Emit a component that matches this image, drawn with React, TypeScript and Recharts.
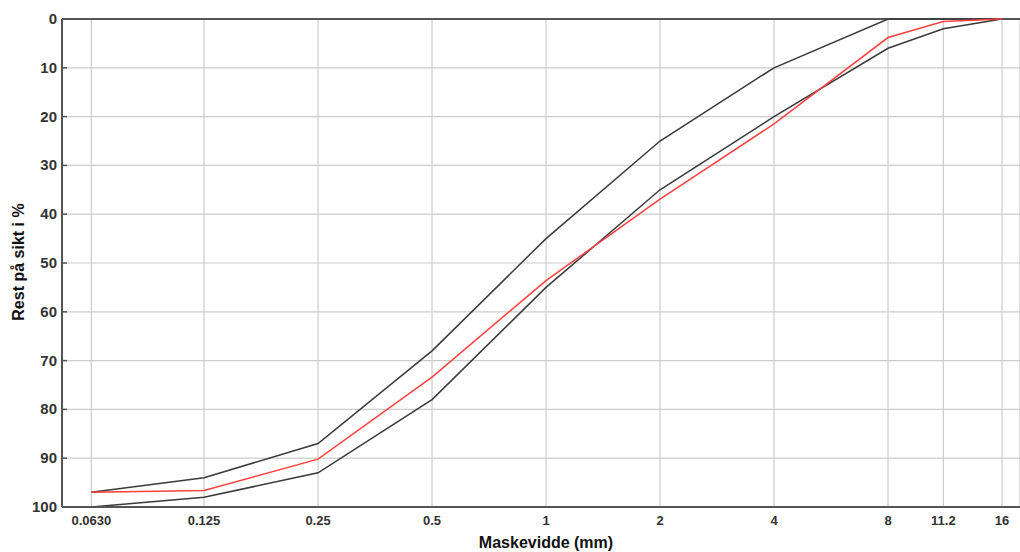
import React from 'react';
import { LineChart, Line, XAxis, YAxis, CartesianGrid, ReferenceLine, Label } from 'recharts';

// sieve sizes (mm) and retained % per sieve
const sieves = [0.063, 0.125, 0.25, 0.5, 1, 2, 4, 8, 11.2, 16];
const sieveLabels = ['0.0630', '0.125', '0.25', '0.5', '1', '2', '4', '8', '11.2', '16'];
const upperLimit = [97, 94, 87, 68, 45, 25, 10, 0, 0, 0];
const lowerLimit = [100, 98, 93, 78, 55, 35, 20, 6, 2, 0];
const sample = [97, 96.6, 90.2, 73.4, 53.6, 36.9, 21.5, 3.8, 0.5, 0];
const yTicks = [0, 10, 20, 30, 40, 50, 60, 70, 80, 90, 100];

const data = sieves.map((size, i) => ({
  size,
  upper: upperLimit[i],
  lower: lowerLimit[i],
  sample: sample[i],
}));

const font = '"Liberation Sans", Arial, sans-serif';

const YTick = (props: any) => {
  const { x, y, payload } = props;
  return (
    <g>
      <line x1={x + 5} x2={x + 10} y1={y} y2={y} stroke="#555" strokeWidth={1.5} />
      <text x={x} y={y} dy={5} textAnchor="end" fill="#333" fontSize={15} fontWeight="bold" fontFamily={font}>
        {payload.value}
      </text>
    </g>
  );
};

const App: React.FC = () => {
  return (
    <div style={{ width: 1020, height: 552 }}>
      <style>{'body{margin:0}'}</style>
      <LineChart width={1020} height={552} data={data} margin={{ top: 19, right: 0, left: 0, bottom: 0 }}>
        <CartesianGrid stroke="#cccccc" strokeWidth={1.2} />
        <XAxis
          dataKey="size"
          type="number"
          scale="log"
          domain={[0.0527, 17.85]}
          allowDataOverflow
          ticks={sieves}
          interval={0}
          tickFormatter={(v: number) => sieveLabels[sieves.indexOf(v)] ?? String(v)}
          tickLine={false}
          tickSize={0}
          tickMargin={9}
          height={45}
          axisLine={{ stroke: '#555', strokeWidth: 2 }}
          tick={{ fill: '#333', fontSize: 13, fontWeight: 'bold', fontFamily: font }}
        >
          <Label
            content={() => (
              <text x={546} y={548} textAnchor="middle" fill="#111" fontSize={16} fontWeight="bold" fontFamily={font}>
                Maskevidde (mm)
              </text>
            )}
          />
        </XAxis>
        <YAxis
          type="number"
          reversed
          domain={[0, 100]}
          ticks={yTicks}
          interval={0}
          width={62}
          tickLine={false}
          tickSize={0}
          tickMargin={5}
          axisLine={{ stroke: '#555', strokeWidth: 2 }}
          tick={<YTick />}
        >
          <Label
            content={() => (
              <text
                x={24}
                y={262}
                transform="rotate(-90 24 262)"
                textAnchor="middle"
                fill="#111"
                fontSize={16}
                fontWeight="bold"
                fontFamily={font}
              >
                Rest på sikt i %
              </text>
            )}
          />
        </YAxis>
        <ReferenceLine y={0} stroke="#555" strokeWidth={2} />
        <Line type="linear" dataKey="upper" stroke="#3a3a3a" strokeWidth={1.5} dot={false} isAnimationActive={false} />
        <Line type="linear" dataKey="lower" stroke="#3a3a3a" strokeWidth={1.5} dot={false} isAnimationActive={false} />
        <Line type="linear" dataKey="sample" stroke="#ff4040" strokeWidth={1.5} dot={false} isAnimationActive={false} />
      </LineChart>
    </div>
  );
};

export default App;
